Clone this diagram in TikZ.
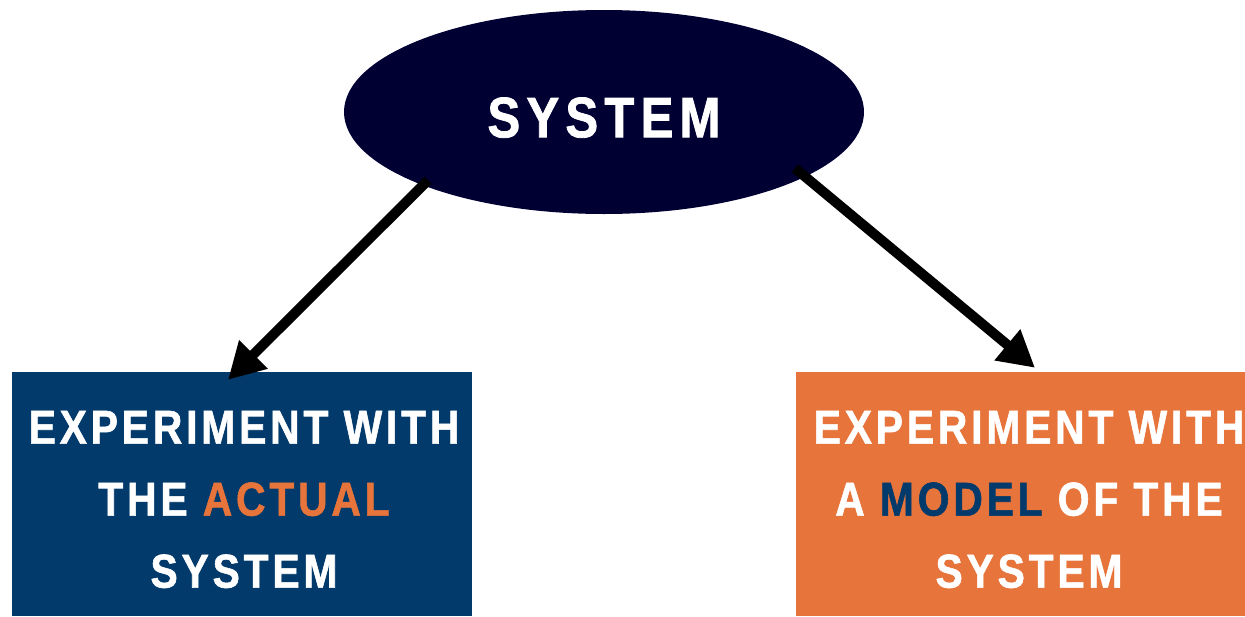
\documentclass[tikz,border=0pt]{standalone}
\usepackage{fontspec}
\usepackage{xcolor}
\usepackage{tikz}
\usetikzlibrary{arrows.meta,shapes.geometric}
\newfontfamily\headfont[FakeStretch=0.86,LetterSpace=8,FakeBold=1.2]{Liberation Sans}
\newfontfamily\sysfont[FakeStretch=0.86,LetterSpace=11,FakeBold=1.4]{Liberation Sans}
\definecolor{sysnavy}{HTML}{000033}
\definecolor{actblue}{HTML}{013A6B}
\definecolor{modorange}{HTML}{E7743A}

\begin{document}
\begin{tikzpicture}[x=1pt,y=-1pt,
  sysnode/.style={ellipse,fill=sysnavy,inner sep=0pt,minimum width=520pt,minimum height=204pt,
    text=white,text height=51pt,font=\sysfont\bfseries\fontsize{57}{57}\selectfont},
  expbox/.style={rectangle,inner sep=0pt,minimum height=244pt},
  exptext/.style={align=center,text=white,inner sep=0pt,font=\headfont\bfseries\fontsize{47.5}{72}\selectfont},
  goarrow/.style={line width=10pt,-{Triangle[length=36pt,width=38pt]}}]
\useasboundingbox (0,0) rectangle (1245,616);
\node[sysnode] (sys) at (604,112) {SYSTEM};
\node[expbox,fill=actblue,minimum width=460pt] (act) at (242,494) {};
\node[expbox,fill=modorange,minimum width=449pt] (mod) at (1020.5,494) {};
\node[exptext] (actT) at (244,499.5) {EXPERIMENT WITH\\THE \textcolor{modorange}{ACTUAL}\\SYSTEM};
\node[exptext] (modT) at (1029,499.5) {EXPERIMENT WITH\\A \textcolor{actblue}{MODEL} OF THE\\SYSTEM};
\draw[goarrow] ([shift={(8,-4)}]sys.south west) -- ([shift={(-14,8)}]act.north);
\draw[goarrow] ([shift={(7,-16)}]sys.south east) -- ([shift={(14.5,-4)}]mod.north);
\end{tikzpicture}
\end{document}
